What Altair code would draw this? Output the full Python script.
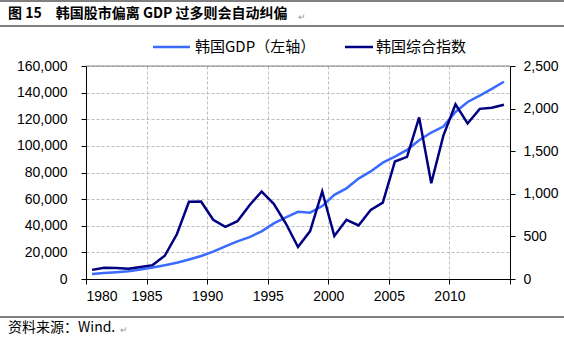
import altair as alt
import pandas as pd

years = list(range(1980, 2015))
gdp = [3800, 4500, 5100, 5900, 7200, 8600, 10300, 12200, 14700, 17300,
       20500, 24500, 28300, 31500, 35800, 41800, 46300, 50500, 49800, 54800,
       63200, 68100, 75400, 80800, 87400, 92000, 97000, 104300, 110000, 114500,
       125500, 133000, 137700, 142800, 148200]
kospi = [107, 131, 129, 121, 142, 163, 273, 525, 907, 910,
         696, 611, 678, 866, 1027, 883, 651, 376, 562, 1028,
         505, 694, 628, 811, 896, 1379, 1434, 1897, 1124, 1683,
         2051, 1826, 1997, 2011, 2045]
x_ticks = [1980, 1985, 1990, 1995, 2000, 2005, 2010, 2015]
left_ticks = list(range(0, 160001, 20000))
right_ticks = [0, 500, 1000, 1500, 2000, 2500]

title_text = "图 15　韩国股市偏离 GDP 过多则会自动纠偏"
source_text = "资料来源：Wind."
legend_gdp = "韩国GDP（左轴）"
legend_kospi = "韩国综合指数"

df = pd.DataFrame({"year": years, "pos": [y + 0.5 for y in years],
                   "gdp": gdp, "kospi": kospi})
one = pd.DataFrame({"a": [0]})

W, H = 424, 213
PL, PT = 86, 66
LATIN = "Liberation Sans"
CJK = "Noto Sans CJK SC"
GRID = "#BDBDBD"
C_GDP = "#3A6BFF"
C_KOSPI = "#000080"

xenc = alt.X("pos:Q",
             scale=alt.Scale(domain=[1980, 2015], nice=False, zero=False),
             axis=alt.Axis(values=x_ticks, title=None,
                           labelExpr="datum.value == 2015 ? '' : '' + datum.value",
                           grid=True, gridDash=[3, 2], gridColor=GRID,
                           domainColor="black", tickColor="black", tickSize=5,
                           labelFont=LATIN, labelFontSize=14, labelColor="black",
                           labelPadding=5))

gdp_line = alt.Chart(df).mark_line(color=C_GDP, strokeWidth=2.5).encode(
    x=xenc,
    y=alt.Y("gdp:Q",
            scale=alt.Scale(domain=[0, 160000], nice=False),
            axis=alt.Axis(values=left_ticks, format=",.0f", title=None, orient="left",
                          grid=True, gridDash=[3, 2], gridColor=GRID,
                          domainColor="black", tickColor="black", tickSize=5,
                          labelFont=LATIN, labelFontSize=14, labelColor="black",
                          labelPadding=14)),
)

kospi_line = alt.Chart(df).mark_line(color=C_KOSPI, strokeWidth=2.5).encode(
    x=xenc,
    y=alt.Y("kospi:Q",
            scale=alt.Scale(domain=[0, 2500], nice=False),
            axis=alt.Axis(values=right_ticks, format=",.0f", title=None, orient="right",
                          grid=False,
                          domainColor="black", tickColor="black", tickSize=5,
                          labelFont=LATIN, labelFontSize=14, labelColor="black",
                          labelPadding=8)),
)

def hrule(x1, x2, y, color="black", width=1.0):
    return alt.Chart(one).mark_rule(color=color, strokeWidth=width).encode(
        x=alt.value(x1 - PL), x2=alt.value(x2 - PL), y=alt.value(y - PT))

def label(text, x, y, size, color="black", weight="normal", font=CJK, align="left"):
    return alt.Chart(one).mark_text(text=text, align=align, baseline="middle",
                                    fontSize=size, color=color, fontWeight=weight,
                                    font=font).encode(
        x=alt.value(x - PL), y=alt.value(y - PT))

top_border = hrule(PL, PL + W, PT, color="#808080", width=1)

layers = [
    top_border,
    gdp_line,
    kospi_line,
    hrule(153, 190, 47, color=C_GDP, width=2.5),
    label(legend_gdp, 195, 47, 15),
    hrule(345, 373, 47, color=C_KOSPI, width=2.5),
    label(legend_kospi, 376, 47, 15),
    hrule(0, 564, 1),
    hrule(0, 564, 26),
    label(title_text, 8, 14, 14, weight="bold"),
    label("↵", 298, 17, 9, color="#999999"),
    hrule(0, 564, 317),
    label(source_text, 8, 328, 14),
    label("↵", 120, 330, 9, color="#999999"),
]

chart = alt.layer(*layers).resolve_scale(y="independent").properties(
    width=W, height=H,
    autosize=alt.AutoSizeParams(type="none"),
    padding={"left": PL, "top": PT, "right": 564 - PL - W, "bottom": 338 - PT - H},
    background="white",
).configure_view(stroke=None)

chart.save("out.html", embed_options={"renderer": "svg", "actions": False})
